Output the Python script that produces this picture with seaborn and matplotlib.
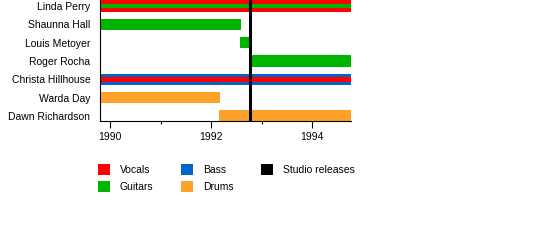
import matplotlib
matplotlib.use("Agg")
import matplotlib.pyplot as plt
import seaborn as sns
import pandas as pd
from matplotlib.patches import Patch

sns.set_theme(style="white")
plt.rcParams['font.family'] = ['Liberation Sans', 'DejaVu Sans']
plt.rcParams['text.color'] = 'black'
plt.rcParams['xtick.color'] = 'black'
plt.rcParams['ytick.color'] = 'black'
plt.rcParams['axes.labelcolor'] = 'black'

members = ["Linda Perry", "Shaunna Hall", "Louis Metoyer", "Roger Rocha",
           "Christa Hillhouse", "Warda Day", "Dawn Richardson"]
roles = ["Vocals", "Guitars", "Bass", "Drums"]
role_colors = ["#FF0000", "#00B400", "#0066CC", "#FFA02A"]

# main bars: member, role, start, end
bar_member = ["Linda Perry", "Shaunna Hall", "Louis Metoyer", "Roger Rocha",
              "Christa Hillhouse", "Warda Day", "Dawn Richardson"]
bar_role = ["Vocals", "Guitars", "Guitars", "Guitars", "Bass", "Drums", "Drums"]
bar_start = [1989.8, 1989.8, 1992.57, 1992.78, 1989.8, 1989.8, 1992.16]
bar_end = [1994.77, 1992.59, 1992.79, 1994.77, 1994.77, 1992.17, 1994.77]

# inner (secondary role) bars
inner_member = ["Linda Perry", "Christa Hillhouse"]
inner_role = ["Guitars", "Vocals"]
inner_start = [1989.8, 1989.8]
inner_end = [1994.77, 1994.77]

releases = [1992.78]
release_labels = ["Studio releases"]

x_start, x_end = 1989.8, 1994.77

main = pd.DataFrame({"member": bar_member, "role": bar_role,
                     "start": bar_start, "end": bar_end})
inner = pd.DataFrame({"member": inner_member, "role": inner_role,
                      "start": inner_start, "end": inner_end})
palette = dict(zip(roles, role_colors))

fig = plt.figure(figsize=(5.5, 2.4), dpi=100)
ax = fig.add_axes([100/550, 1 - 121/240, 251/550, 121/240])

ypos = {m: i for i, m in enumerate(members)}
for _, r in main.iterrows():
    ax.barh(ypos[r.member], r.end - r.start, left=r.start, height=0.62,
            color=palette[r.role], linewidth=0)
for _, r in inner.iterrows():
    ax.barh(ypos[r.member], r.end - r.start, left=r.start, height=0.25,
            color=palette[r.role], linewidth=0)
for x in releases:
    ax.axvline(x, color="black", linewidth=2.2, zorder=5)

ax.set_xlim(x_start, x_end)
ax.set_ylim(6.27, -0.33)
ax.set_yticks(range(len(members)))
ax.set_yticklabels(members, fontsize=7.5, color="black")
ax.set_xticks([1990, 1992, 1994])
ax.set_xticklabels(["1990", "1992", "1994"], fontsize=7.5, color="black")
ax.set_xticks([1991, 1993], minor=True)
ax.tick_params(axis="x", which="major", direction="out", length=5, width=0.8,
               color="black", bottom=True, pad=3)
ax.tick_params(axis="x", which="minor", direction="out", length=2.5, width=0.8,
               color="black", bottom=True)
ax.tick_params(axis="y", length=0, pad=7)
for s in ["top", "right"]:
    ax.spines[s].set_visible(False)
for s in ["left", "bottom"]:
    ax.spines[s].set_color("black")
    ax.spines[s].set_linewidth(0.8)
ax.set_xlabel("")
ax.set_ylabel("")

handles = [Patch(facecolor=palette[r], edgecolor="none", label=r) for r in roles]
handles.append(Patch(facecolor="black", edgecolor="none", label=release_labels[0]))
leg = fig.legend(handles=handles, ncol=3, loc="upper left",
                 bbox_to_anchor=(98/550, 1 - 164/240), frameon=False,
                 fontsize=7.5, handlelength=1.15, handleheight=1.25,
                 handletextpad=0.95, labelspacing=0.6, columnspacing=2.65,
                 borderpad=0, borderaxespad=0)
for t in leg.get_texts():
    t.set_color("black")

fig.savefig("out.png", dpi=100)
